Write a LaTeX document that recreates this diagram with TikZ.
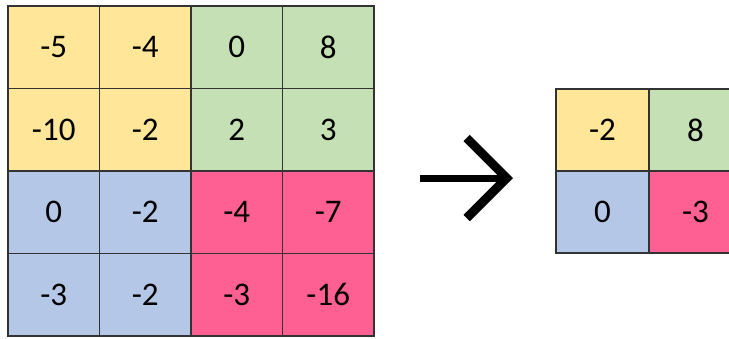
\documentclass[tikz,border=0pt]{standalone}
\usepackage{fontspec}
\setmainfont{Carlito}
\usetikzlibrary{arrows.meta,positioning}
\definecolor{cyel}{HTML}{FFE699}
\definecolor{cgrn}{HTML}{C5E0B4}
\definecolor{cblu}{HTML}{B4C7E7}
\definecolor{cpnk}{HTML}{FF6094}
\definecolor{cline}{HTML}{333333}

\begin{document}
\begin{tikzpicture}[x=1pt,y=-1pt,node distance=0pt and 0pt,every node/.style={font=\fontsize{33}{38}\selectfont},cell/.style={draw=cline,line width=1.5pt,outer sep=0pt,inner sep=0pt,minimum width=91.5pt,minimum height=82.5pt},small/.style={cell,minimum width=93pt,minimum height=82pt}]
\useasboundingbox (0,0) rectangle (729,338);
\clip (0,0) rectangle (729,338);
% input 4x4
\node[cell,fill=cyel,anchor=north west] (a11) at (8,6) {-5};
\node[cell,fill=cyel,right=of a11] (a12) {-4};
\node[cell,fill=cgrn,right=of a12] (a13) {0};
\node[cell,fill=cgrn,right=of a13] (a14) {8};
\node[cell,fill=cyel,below=of a11] (a21) {-10};
\node[cell,fill=cyel,right=of a21] (a22) {-2};
\node[cell,fill=cgrn,right=of a22] (a23) {2};
\node[cell,fill=cgrn,right=of a23] (a24) {3};
\node[cell,fill=cblu,below=of a21] (a31) {0};
\node[cell,fill=cblu,right=of a31] (a32) {-2};
\node[cell,fill=cpnk,right=of a32] (a33) {-4};
\node[cell,fill=cpnk,right=of a33] (a34) {-7};
\node[cell,fill=cblu,below=of a31] (a41) {-3};
\node[cell,fill=cblu,right=of a41] (a42) {-2};
\node[cell,fill=cpnk,right=of a42] (a43) {-3};
\node[cell,fill=cpnk,right=of a43] (a44) {-16};
% pooled 2x2
\node[small,fill=cyel,anchor=north west] (b11) at (556,89) {-2};
\node[small,fill=cgrn,right=of b11] (b12) {8};
\node[small,fill=cblu,below=of b11] (b21) {0};
\node[small,fill=cpnk,right=of b21] (b22) {-3};
% arrow
\coordinate (from) at (420,178);
\coordinate (to) at (513,178);
\draw[line width=7pt,-{Straight Barb[length=40pt,width=80pt,line width=9pt]}] (from) -- (to);
\end{tikzpicture}
\end{document}
